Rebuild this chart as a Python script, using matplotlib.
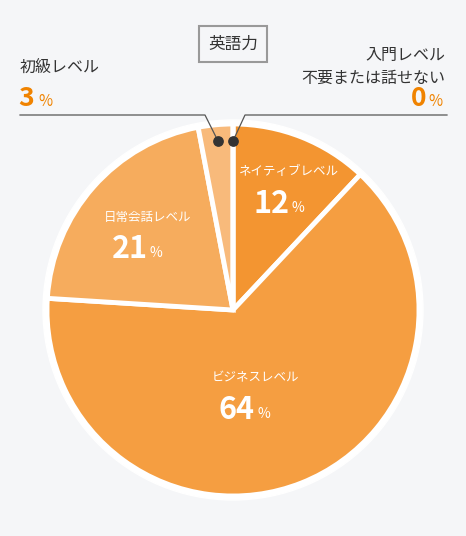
import matplotlib
matplotlib.use("Agg")
import matplotlib.pyplot as plt

plt.rcParams['font.family'] = ['Noto Sans CJK JP', 'DejaVu Sans']

labels = ['ネイティブレベル', 'ビジネスレベル', '日常会話レベル', '初級レベル', '入門レベル\n不要または話せない']
values = [12, 64, 21, 3, 0]
colors = ['#F39531', '#F59E41', '#F6AC5D', '#F8BA7B', '#F8BA7B']

W, H = 466, 536
fig = plt.figure(figsize=(W/100, H/100), dpi=100)
fig.patch.set_facecolor('#F5F6F8')
ax = fig.add_axes([0, 0, 1, 1])
ax.set_xlim(0, W); ax.set_ylim(0, H); ax.axis('off'); ax.set_aspect('equal')
Y = lambda y: H - y

cx, cy, r = 233, 310, 186
ax.add_patch(plt.Circle((cx, Y(cy)), r + 4, color='white', zorder=1))
ax.pie(values, colors=colors, startangle=90, counterclock=False, center=(cx, Y(cy)),
       radius=r, wedgeprops=dict(edgecolor='white', linewidth=3.5), frame=True)
ax.set_xlim(0, W); ax.set_ylim(0, H); ax.axis('off')

def inner(x, y, name, v):
    ax.text(x, Y(y), name, color='white', fontsize=9, ha='center', va='center', zorder=5)
    ax.text(x, Y(y + 32), f'{v}', color='white', fontsize=22, fontweight='bold', ha='right', va='center', zorder=5)
    ax.text(x + 2, Y(y + 36), '%', color='white', fontsize=10, ha='left', va='center', zorder=5)

inner(289, 172, labels[0], values[0])
inner(255, 378, labels[1], values[1])
inner(148, 217, labels[2], values[2])

# title box
ax.text(233, Y(44), '英語力', fontsize=12, ha='center', va='center', color='#333333',
        bbox=dict(boxstyle='square,pad=0.55', fc='#F5F6F8', ec='#999999', lw=1.5))

# outer labels
ax.text(20, Y(67), labels[3], fontsize=11.5, color='#333333', ha='left', va='center')
ax.text(18, Y(99), f'{values[3]}', fontsize=19, fontweight='bold', color='#F08300', ha='left', va='center')
ax.text(38, Y(102), '%', fontsize=11, color='#F08300', ha='left', va='center')
ax.text(445, Y(55), '入門レベル', fontsize=11.5, color='#333333', ha='right', va='center')
ax.text(445, Y(67+0), '', fontsize=1)
ax.text(445, Y(78), '不要または話せない', fontsize=11.5, color='#333333', ha='right', va='center')
ax.text(426, Y(99), f'{values[4]}', fontsize=19, fontweight='bold', color='#F08300', ha='right', va='center')
ax.text(428, Y(102), '%', fontsize=11, color='#F08300', ha='left', va='center')

# leader lines
ax.plot([20, 205, 218], [Y(115), Y(115), Y(141)], color='#555555', lw=0.9, zorder=6)
ax.plot([447, 245, 233], [Y(115), Y(115), Y(141)], color='#555555', lw=0.9, zorder=6)
ax.scatter([218, 233], [Y(141), Y(141)], s=45, color='#333333', zorder=7)

fig.savefig('out.png', dpi=100, facecolor=fig.get_facecolor())
